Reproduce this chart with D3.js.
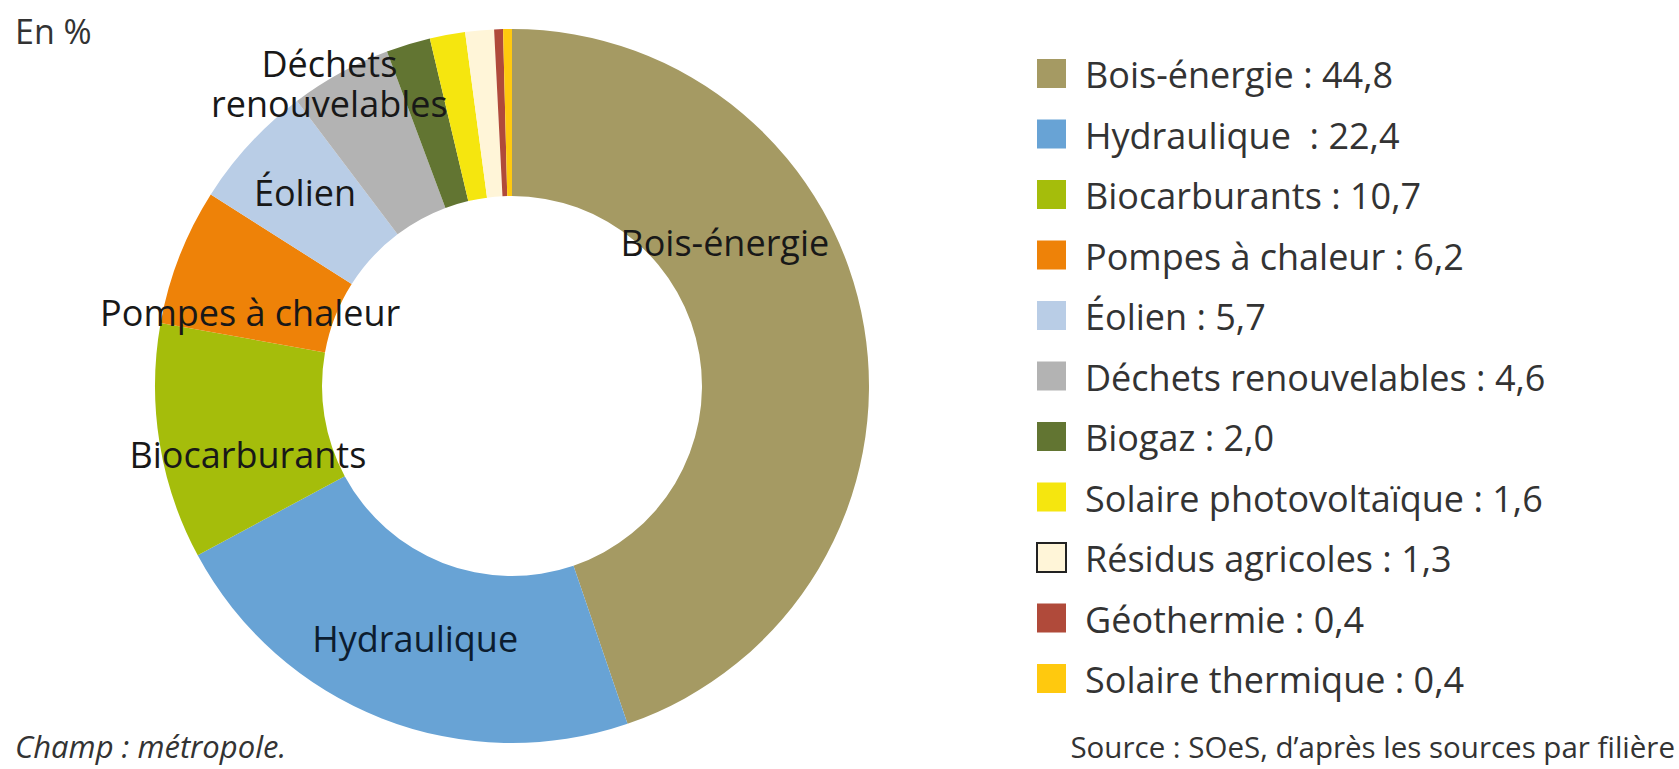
<!DOCTYPE html>
<meta charset="utf-8">
<head>
<style>
  body { margin: 0; background: #fff; }
  text { font-family: "Open Sans", sans-serif; }
</style>
</head>
<title>Energies renouvelables</title>
<body>
<script src="https://d3js.org/d3.v7.min.js"></script>
<script>

// Data
var categories = ["Bois-énergie", "Hydraulique", "Biocarburants", "Pompes à chaleur", "Éolien",
  "Déchets renouvelables", "Biogaz", "Solaire photovoltaïque", "Résidus agricoles",
  "Géothermie", "Solaire thermique"];
var values = [44.8, 22.4, 10.7, 6.2, 5.7, 4.6, 2.0, 1.6, 1.3, 0.4, 0.4];
var legendLabels = ["Bois-énergie : 44,8", "Hydraulique  : 22,4", "Biocarburants : 10,7",
  "Pompes à chaleur : 6,2", "Éolien : 5,7", "Déchets renouvelables : 4,6", "Biogaz : 2,0",
  "Solaire photovoltaïque : 1,6", "Résidus agricoles : 1,3", "Géothermie : 0,4",
  "Solaire thermique : 0,4"];
var colors = ["#a59a63", "#68a3d5", "#a5bd0b", "#ee8208", "#b9cde6", "#b3b3b3",
  "#627532", "#f5e60f", "#fff5d8", "#b04a3a", "#ffc90e"];

// labels shown inside the ring (lines), and a nudge from the slice centroid
var sliceLabels = [["Bois-énergie"], ["Hydraulique"], ["Biocarburants"], ["Pompes à chaleur"],
  ["Éolien"], ["Déchets", "renouvelables"], [], [], [], [], []];
var labelNudge = [[-57, -97], [3, -1], [6, 27], [-7, 27], [-6, -6], [-51, -61],
  [0, 0], [0, 0], [0, 0], [0, 0], [0, 0]];

var width = 1679,
    height = 769;

var cx = 512, cy = 386,
    outerR = 357, innerR = 190;

var svg = d3.select("body").append("svg")
    .attr("width", width)
    .attr("height", height);

var pie = d3.pie()
    .sort(null)
    .value(function(d){ return d; })
    .startAngle(0)
    .endAngle(2 * Math.PI);

var arc = d3.arc()
    .innerRadius(innerR)
    .outerRadius(outerR);

var arcs = pie(values);

var donut = svg.append("g")
    .attr("transform", "translate(" + cx + "," + cy + ")");

donut.selectAll("path")
  .data(arcs)
  .enter()
  .append("path")
  .attr("d", arc)
  .attr("fill", function(d, i){ return colors[i]; });

// slice labels
var lab = donut.selectAll("text.slice")
  .data(arcs)
  .enter()
  .append("text")
  .attr("class", "slice")
  .attr("text-anchor", "middle")
  .attr("font-size", "36px")
  .attr("fill", function(d, i){ return i == 1 ? "#0c1d30" : "#181818"; })
  .attr("transform", function(d, i){
    var c = arc.centroid(d);
    return "translate(" + (c[0] + labelNudge[i][0]) + "," + (c[1] + labelNudge[i][1]) + ")";
  });

lab.each(function(d, i){
  var lines = sliceLabels[i];
  var t = d3.select(this);
  lines.forEach(function(l, j){
    t.append("tspan")
      .attr("x", 0)
      .attr("y", (j - (lines.length - 1) / 2) * 40 + 12)
      .text(l);
  });
});

// legend
var legend = svg.append("g")
    .attr("transform", "translate(1037,59)");

var rows = legend.selectAll("g")
  .data(categories)
  .enter()
  .append("g")
  .attr("transform", function(d, i){ return "translate(0," + (i * 60.5) + ")"; });

rows.append("rect")
  .attr("width", 29)
  .attr("height", 29)
  .attr("fill", function(d, i){ return colors[i]; })
  .attr("stroke", function(d, i){ return d == "Résidus agricoles" ? "#222" : "none"; })
  .attr("stroke-width", 2);

rows.append("text")
  .attr("x", 48)
  .attr("y", 29)
  .attr("font-size", "36px")
  .attr("fill", "#333")
  .style("white-space", "pre")
  .text(function(d, i){ return legendLabels[i]; });

// titles and notes
svg.append("text")
  .attr("x", 15)
  .attr("y", 44)
  .attr("font-size", "34px")
  .attr("fill", "#333")
  .text("En %");

svg.append("text")
  .attr("x", 15)
  .attr("y", 758)
  .attr("font-size", "31px")
  .attr("font-style", "italic")
  .attr("fill", "#333")
  .text("Champ : métropole.");

svg.append("text")
  .attr("x", 1675)
  .attr("y", 758)
  .attr("text-anchor", "end")
  .attr("font-size", "29.5px")
  .attr("fill", "#333")
  .text("Source : SOeS, d’après les sources par filière");

</script>
</body>
